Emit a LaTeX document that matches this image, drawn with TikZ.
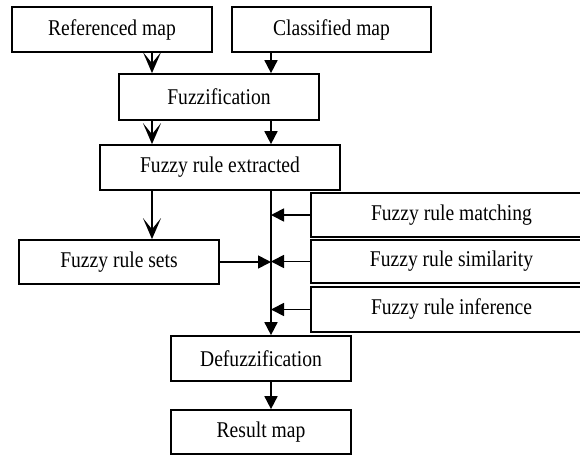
\documentclass[tikz,border=0pt]{standalone}
\usepackage{fontspec}
\setmainfont{Liberation Serif}[FakeStretch=0.87]
\usetikzlibrary{arrows.meta}
\begin{document}
\begin{tikzpicture}[x=1pt,y=-1pt]
\tikzstyle{every node}+=[inner sep=0pt]
\tikzstyle{box}=[draw=black, line width=1.7pt, rectangle, font=\fontsize{22.5}{26}\selectfont]
\tikzstyle{line}=[black, line width=1.7pt]
\tikzstyle{vee}=[line, -{Stealth[length=21pt,width=18pt,inset=11pt]}]
\tikzstyle{tri}=[line, -{Triangle[length=13pt,width=13pt]}]
\useasboundingbox (0,0) rectangle (580,455);
\clip (0,0) rectangle (580,455);
\coordinate (colL) at (152,0);
\coordinate (colR) at (271,0);
\node [box, minimum width=200pt, minimum height=45pt] (ref) at (112,29.5) {Referenced map};
\node [box, minimum width=199pt, minimum height=45pt] (cls) at (331.5,29.5) {Classified map};
\node [box, minimum width=200pt, minimum height=46pt] (fuz) at (219,97) {Fuzzification};
\node [box, minimum width=240pt, minimum height=45pt] (ext) at (220,167.5) {Fuzzy rule extracted};
\node [box, minimum width=200pt, minimum height=44pt] (sets) at (119,262) {Fuzzy rule sets};
\node [box, minimum width=281pt, minimum height=44pt] (match) at (451.5,215) {Fuzzy rule matching};
\node [box, minimum width=281pt, minimum height=43pt] (sim) at (451.5,261.5) {Fuzzy rule similarity};
\node [box, minimum width=281pt, minimum height=45pt] (inf) at (451.5,309.5) {Fuzzy rule inference};
\node [box, minimum width=180pt, minimum height=45pt] (defuz) at (261,358.5) {Defuzzification};
\node [box, minimum width=180pt, minimum height=44pt] (res) at (261,432) {Result map};
\draw [vee] (ref.south -| colL) -- (fuz.north -| colL);
\draw [tri] (cls.south -| colR) -- (fuz.north -| colR);
\draw [vee] (fuz.south -| colL) -- (ext.north -| colL);
\draw [tri] (fuz.south -| colR) -- (ext.north -| colR);
\draw [vee] (ext.south -| colL) -- (sets.north -| colL);
\draw [tri] (ext.south -| colR) -- (defuz.north -| colR);
\draw [tri] (sets.east) -- (sets.east -| colR);
\draw [tri] (match.west) -- (match.west -| colR);
\draw [tri] (sim.west) -- (sim.west -| colR);
\draw [tri] (inf.west) -- (inf.west -| colR);
\draw [tri] (defuz.south -| colR) -- (res.north -| colR);
\end{tikzpicture}
\end{document}
